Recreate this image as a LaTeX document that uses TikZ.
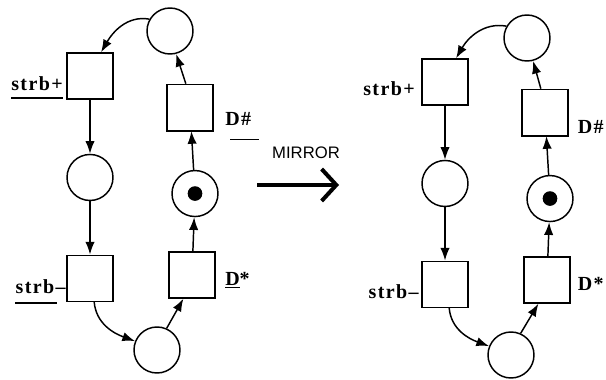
\documentclass[tikz,border=0pt]{standalone}
\usepackage{fontspec}
\setmainfont{Liberation Serif}
\newfontfamily\sigfont[LetterSpace=7]{Liberation Serif}
\newfontfamily\mirrorfont{Liberation Sans}
\usetikzlibrary{positioning,arrows.meta}

\begin{document}
\begin{tikzpicture}[
  x=0.75pt, y=-0.75pt,
  place/.style={circle, draw=black, line width=1.1pt, minimum size=34.5pt, inner sep=0pt},
  trans/.style={rectangle, draw=black, line width=1.1pt, minimum size=34.5pt, inner sep=0pt},
  token/.style={circle, fill=black, minimum size=11pt, inner sep=0pt},
  arc/.style={-{Latex[length=9.5pt,width=7pt]}, line width=1.1pt, draw=black},
  sig/.style={font=\sigfont\bfseries\fontsize{15}{15}\selectfont, inner sep=0pt},
  uline/.style={line width=1pt, draw=black},
]
  \useasboundingbox (0,0) rectangle (606,379);

  % left net
  \node[trans] (Lsp) at (90,76) {};
  \node[place, below=40.5pt of Lsp] (Lc1) {};
  \node[trans, below=40pt of Lc1] (Lsm) {};
  \node[trans] (Lds) at (192,275) {};
  \node[place, above=25.5pt of Lds, xshift=2.25pt] (Ltok) {};
  \node[token] (Ltokdot) at (Ltok) {};
  \node[trans, above=29pt of Ltok, xshift=-3.75pt] (Ldh) {};
  \node[place] (Lc0) at (170,31) {};
  \node[place] (Lc2) at (157,350) {};
  \draw[line width=2pt] (Ldh.south west) -- (Ldh.south east);

  \draw[arc] (Lc0.150) to[out=170, in=60] (Lsp.65);
  \draw[arc] (Lsp) -- (Lc1);
  \draw[arc] (Lc1) -- (Lsm);
  \draw[arc] (Lsm.-80) to[out=-85, in=160] (Lc2.158);
  \draw[arc] (Lc2.66) -- (Lds.-110);
  \draw[arc] (Lds) -- (Ltok);
  \draw[arc] (Ltok) -- (Ldh);
  \draw[arc] (Ldh.100) -- (Lc0.-75);

  \node[sig, anchor=base east] (Llsp) at (63,90) {strb+};
  \node[sig, anchor=base east] (Llsm) at (66,293) {strb\textendash};
  \node[sig, anchor=base west] (Lldh) at (225,125) {D\#};
  \node[sig, anchor=base west] (Llds) at (225,285) {\underline{D}*};
  \draw[uline] ([yshift=-6pt]Llsp.base west) -- ([yshift=-6pt]Llsp.base east);
  \draw[uline] ([yshift=-7.5pt]Llsm.base west) -- ([yshift=-7.5pt,xshift=-7pt]Llsm.base east);
  \draw[uline] ([yshift=-11pt,xshift=4pt]Lldh.base west) -- ([yshift=-11pt,xshift=6pt]Lldh.base east);

  % mirror arrow
  \node[font=\mirrorfont\fontsize{12.5}{12.5}\selectfont, inner sep=0pt] (mirror) at (306,153) {MIRROR};
  \coordinate (mfrom) at (257,185);
  \coordinate (mto) at (339,185);
  \draw[line width=3pt, -{Straight Barb[length=11pt, width=24pt, line width=3pt]}] (mfrom) -- (mto);

  % right net
  \node[trans] (Rsp) at (445,82) {};
  \node[place, below=40.5pt of Rsp] (Rc1) {};
  \node[trans, below=40pt of Rc1] (Rsm) {};
  \node[trans] (Rds) at (547,280) {};
  \node[place, above=25.5pt of Rds, xshift=2.25pt] (Rtok) {};
  \node[token] (Rtokdot) at (Rtok) {};
  \node[trans, above=29pt of Rtok, xshift=-3.75pt] (Rdh) {};
  \node[place] (Rc0) at (527,38) {};
  \node[place] (Rc2) at (511,355) {};
  \draw[line width=2pt] (Rdh.south west) -- (Rdh.south east);

  \draw[arc] (Rc0.150) to[out=170, in=60] (Rsp.65);
  \draw[arc] (Rsp) -- (Rc1);
  \draw[arc] (Rc1) -- (Rsm);
  \draw[arc] (Rsm.-80) to[out=-85, in=160] (Rc2.158);
  \draw[arc] (Rc2.66) -- (Rds.-110);
  \draw[arc] (Rds) -- (Rtok);
  \draw[arc] (Rtok) -- (Rdh);
  \draw[arc] (Rdh.100) -- (Rc0.-75);

  \node[sig, anchor=base east] (Rlsp) at (415,95) {strb+};
  \node[sig, anchor=base east] (Rlsm) at (419,298) {strb\textendash};
  \node[sig, anchor=base east] (Rldh) at (604,133) {D\#};
  \node[sig, anchor=base east] (Rlds) at (604,290) {D*};
\end{tikzpicture}
\end{document}
